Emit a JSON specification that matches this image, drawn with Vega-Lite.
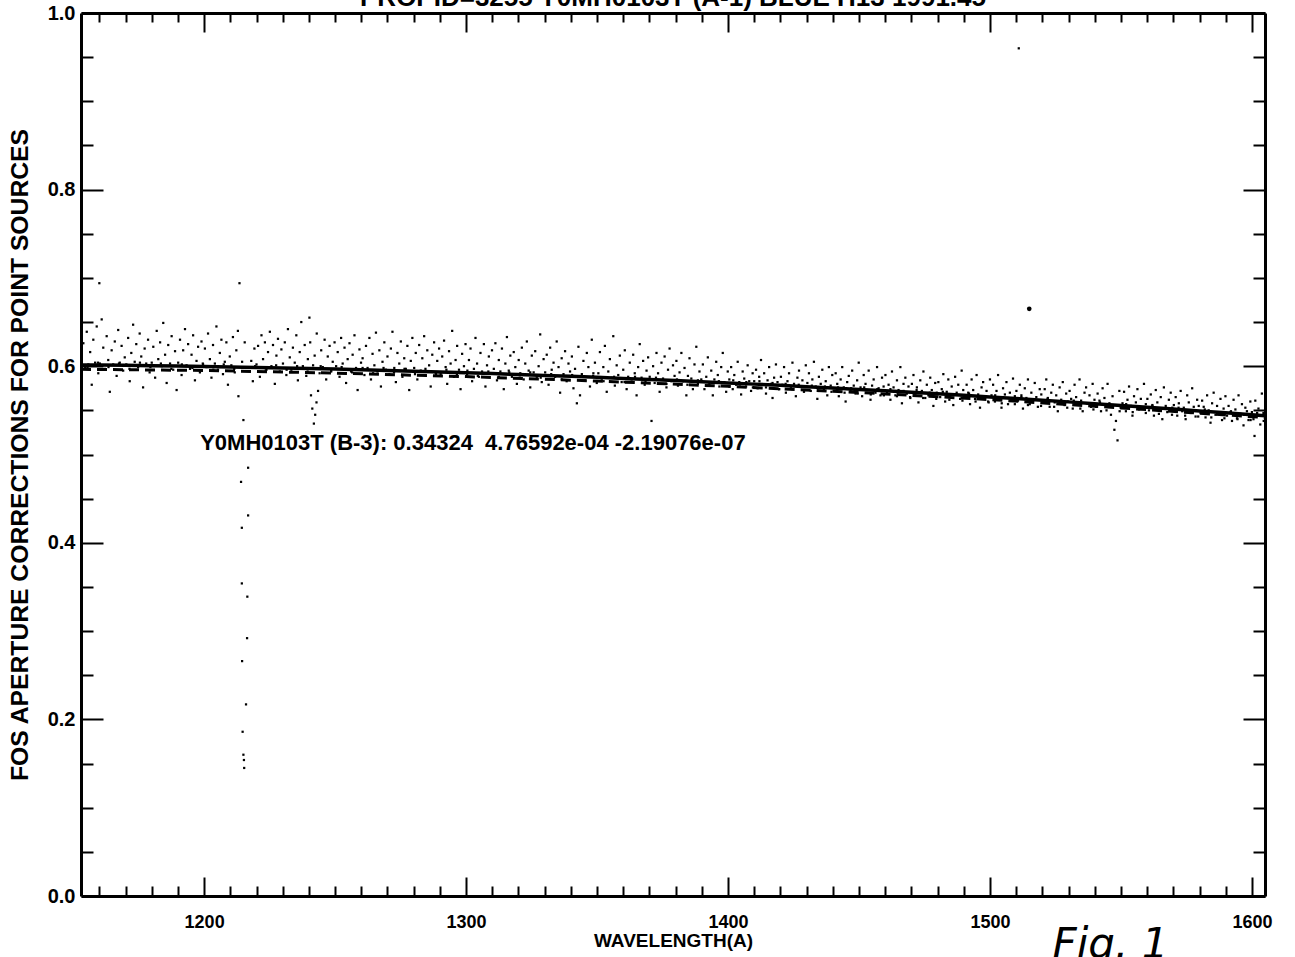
{
"$schema": "https://vega.github.io/schema/vega-lite/v6.json",
"width": 1184, "height": 883,
"autosize": {"type": "none"},
"padding": {"left": 81, "top": 13, "right": 30, "bottom": 61},
"background": "white",
"title": {"text": "PROPID=3255 Y0MH0103T (A-1) BLUE H13 1991.45", "fontSize": 26, "font": "Liberation Sans", "fontWeight": "bold", "offset": -8, "anchor": "middle", "color": "black"},
"config": {"view": {"stroke": null}, "title": {"color": "black"}, "axis": {"grid": false, "domainColor": "black", "domainWidth": 3, "tickColor": "black", "tickWidth": 2, "labelColor": "black", "titleColor": "black", "labelFont": "Liberation Sans", "titleFont": "Liberation Sans", "labelFontWeight": "bold", "titleFontWeight": "bold", "labelFlush": false, "labelOverlap": false}},
"datasets": {
"pts": [
{"w":1153.3,"v":0.605},{"w":1153.9,"v":0.626},{"w":1154.6,"v":0.598},{"w":1155.2,"v":0.639},{"w":1155.8,"v":0.602},{"w":1156.5,"v":0.616},{"w":1157.1,"v":0.579},{"w":1157.7,"v":0.630},{"w":1158.4,"v":0.604},{"w":1159.0,"v":0.645},{"w":1159.6,"v":0.592},
{"w":1160.2,"v":0.603},{"w":1160.9,"v":0.653},{"w":1161.5,"v":0.621},{"w":1162.1,"v":0.597},{"w":1162.8,"v":0.634},{"w":1163.4,"v":0.607},{"w":1164.0,"v":0.571},{"w":1164.7,"v":0.618},{"w":1165.3,"v":0.602},{"w":1165.9,"v":0.628},{"w":1166.6,"v":0.589},{"w":1167.2,"v":0.641},{"w":1167.8,"v":0.604},{"w":1168.5,"v":0.623},{"w":1169.1,"v":0.595},{"w":1169.7,"v":0.610},
{"w":1170.3,"v":0.602},{"w":1171.0,"v":0.632},{"w":1171.6,"v":0.583},{"w":1172.2,"v":0.615},{"w":1172.9,"v":0.647},{"w":1173.5,"v":0.605},{"w":1174.1,"v":0.625},{"w":1174.8,"v":0.599},{"w":1175.4,"v":0.637},{"w":1176.0,"v":0.611},{"w":1176.7,"v":0.576},{"w":1177.3,"v":0.620},{"w":1177.9,"v":0.603},{"w":1178.6,"v":0.630},{"w":1179.2,"v":0.593},
{"w":1180.0,"v":0.604},{"w":1180.6,"v":0.622},{"w":1181.3,"v":0.587},{"w":1181.9,"v":0.640},{"w":1182.5,"v":0.608},{"w":1183.2,"v":0.627},{"w":1183.8,"v":0.600},{"w":1184.4,"v":0.649},{"w":1185.1,"v":0.613},{"w":1185.7,"v":0.581},{"w":1186.3,"v":0.624},{"w":1187.0,"v":0.603},{"w":1187.6,"v":0.634},{"w":1188.2,"v":0.596},{"w":1188.9,"v":0.617},{"w":1189.5,"v":0.573},
{"w":1190.1,"v":0.604},{"w":1190.8,"v":0.630},{"w":1191.4,"v":0.590},{"w":1192.0,"v":0.618},{"w":1192.7,"v":0.642},{"w":1193.3,"v":0.601},{"w":1193.9,"v":0.625},{"w":1194.6,"v":0.597},{"w":1195.2,"v":0.613},{"w":1195.8,"v":0.635},{"w":1196.5,"v":0.584},{"w":1197.1,"v":0.606},{"w":1197.7,"v":0.622},{"w":1198.4,"v":0.593},{"w":1199.0,"v":0.628},{"w":1199.6,"v":0.602},
{"w":1200.3,"v":0.620},{"w":1200.9,"v":0.599},{"w":1201.5,"v":0.637},{"w":1202.2,"v":0.608},{"w":1202.8,"v":0.587},{"w":1203.4,"v":0.624},{"w":1204.1,"v":0.603},{"w":1204.7,"v":0.645},{"w":1205.3,"v":0.596},{"w":1206.0,"v":0.615},{"w":1206.6,"v":0.630},{"w":1207.2,"v":0.591},{"w":1207.9,"v":0.605},{"w":1208.5,"v":0.627},{"w":1209.1,"v":0.579},{"w":1209.8,"v":0.611},
{"w":1210.4,"v":0.601},{"w":1211.0,"v":0.633},{"w":1211.7,"v":0.593},{"w":1212.3,"v":0.618},{"w":1212.9,"v":0.640},{"w":1213.5,"v":0.694},{"w":1213.1,"v":0.566},{"w":1214.5,"v":0.605},{"w":1215.0,"v":0.539},{"w":1215.5,"v":0.627},{"w":1218.0,"v":0.606},{"w":1218.6,"v":0.583},{"w":1219.2,"v":0.620},
{"w":1216.8,"v":0.485},{"w":1214.1,"v":0.469},{"w":1216.8,"v":0.431},{"w":1214.4,"v":0.417},{"w":1214.4,"v":0.354},{"w":1216.5,"v":0.339},{"w":1216.4,"v":0.292},{"w":1214.5,"v":0.266},{"w":1216.0,"v":0.217},{"w":1214.7,"v":0.186},{"w":1215.0,"v":0.160},{"w":1215.2,"v":0.154},{"w":1215.3,"v":0.145},
{"w":1220.0,"v":0.602},{"w":1220.6,"v":0.623},{"w":1221.3,"v":0.588},{"w":1221.9,"v":0.635},{"w":1222.5,"v":0.608},{"w":1223.2,"v":0.627},{"w":1223.8,"v":0.596},{"w":1224.4,"v":0.616},{"w":1225.1,"v":0.639},{"w":1225.7,"v":0.600},{"w":1226.3,"v":0.624},{"w":1227.0,"v":0.580},{"w":1227.6,"v":0.612},{"w":1228.2,"v":0.631},{"w":1228.9,"v":0.594},{"w":1229.5,"v":0.619},
{"w":1230.1,"v":0.603},{"w":1230.8,"v":0.627},{"w":1231.4,"v":0.590},{"w":1232.0,"v":0.642},{"w":1232.7,"v":0.610},{"w":1233.3,"v":0.596},{"w":1233.9,"v":0.621},{"w":1234.6,"v":0.604},{"w":1235.2,"v":0.635},{"w":1235.8,"v":0.584},{"w":1236.5,"v":0.616},{"w":1237.1,"v":0.650},{"w":1237.7,"v":0.600},{"w":1238.4,"v":0.624},{"w":1239.0,"v":0.589},{"w":1239.6,"v":0.608},
{"w":1240.2,"v":0.655},{"w":1240.8,"v":0.567},{"w":1241.3,"v":0.552},{"w":1241.9,"v":0.535},{"w":1242.4,"v":0.545},{"w":1242.9,"v":0.559},{"w":1243.5,"v":0.572},{"w":1240.5,"v":0.627},{"w":1241.6,"v":0.601},{"w":1242.2,"v":0.612},{"w":1243.0,"v":0.637},{"w":1244.1,"v":0.592},{"w":1244.7,"v":0.618},{"w":1245.3,"v":0.599},{"w":1246.0,"v":0.630},{"w":1246.6,"v":0.585},{"w":1247.2,"v":0.611},{"w":1247.9,"v":0.623},{"w":1248.5,"v":0.595},{"w":1249.1,"v":0.605},{"w":1249.8,"v":0.627},
{"w":1250.4,"v":0.600},{"w":1251.0,"v":0.616},{"w":1251.7,"v":0.588},{"w":1252.3,"v":0.632},{"w":1252.9,"v":0.603},{"w":1253.6,"v":0.621},{"w":1254.2,"v":0.581},{"w":1254.8,"v":0.608},{"w":1255.5,"v":0.626},{"w":1256.1,"v":0.594},{"w":1256.7,"v":0.613},{"w":1257.4,"v":0.635},{"w":1258.0,"v":0.598},{"w":1258.6,"v":0.573},{"w":1259.3,"v":0.619},{"w":1259.9,"v":0.604},
{"w":1260.5,"v":0.609},{"w":1261.2,"v":0.590},{"w":1261.8,"v":0.623},{"w":1262.4,"v":0.598},{"w":1263.1,"v":0.632},{"w":1263.7,"v":0.585},{"w":1264.3,"v":0.614},{"w":1265.0,"v":0.601},{"w":1265.6,"v":0.638},{"w":1266.2,"v":0.594},{"w":1266.9,"v":0.618},{"w":1267.5,"v":0.577},{"w":1268.1,"v":0.605},{"w":1268.8,"v":0.627},{"w":1269.4,"v":0.596},
{"w":1270.0,"v":0.611},{"w":1270.7,"v":0.591},{"w":1271.3,"v":0.620},{"w":1271.9,"v":0.639},{"w":1272.6,"v":0.598},{"w":1273.2,"v":0.582},{"w":1273.8,"v":0.615},{"w":1274.5,"v":0.603},{"w":1275.1,"v":0.628},{"w":1275.7,"v":0.588},{"w":1276.4,"v":0.609},{"w":1277.0,"v":0.597},{"w":1277.6,"v":0.623},{"w":1278.3,"v":0.573},{"w":1278.9,"v":0.606},{"w":1279.5,"v":0.632},
{"w":1280.2,"v":0.598},{"w":1280.8,"v":0.615},{"w":1281.4,"v":0.585},{"w":1282.1,"v":0.624},{"w":1282.7,"v":0.595},{"w":1283.3,"v":0.609},{"w":1284.0,"v":0.634},{"w":1284.6,"v":0.589},{"w":1285.2,"v":0.618},{"w":1285.9,"v":0.601},{"w":1286.5,"v":0.577},{"w":1287.1,"v":0.613},{"w":1287.8,"v":0.627},{"w":1288.4,"v":0.593},{"w":1289.0,"v":0.606},{"w":1289.7,"v":0.620},
{"w":1290.3,"v":0.591},{"w":1290.9,"v":0.611},{"w":1291.6,"v":0.629},{"w":1292.2,"v":0.599},{"w":1292.8,"v":0.580},{"w":1293.5,"v":0.617},{"w":1294.1,"v":0.603},{"w":1294.7,"v":0.640},{"w":1295.4,"v":0.588},{"w":1296.0,"v":0.607},{"w":1296.6,"v":0.623},{"w":1297.3,"v":0.596},{"w":1297.9,"v":0.574},{"w":1298.5,"v":0.614},{"w":1299.2,"v":0.600},{"w":1299.8,"v":0.625},
{"w":1300.4,"v":0.591},{"w":1301.1,"v":0.607},{"w":1301.7,"v":0.620},{"w":1302.3,"v":0.583},{"w":1303.0,"v":0.597},{"w":1303.6,"v":0.632},{"w":1304.2,"v":0.603},{"w":1304.9,"v":0.588},{"w":1305.5,"v":0.615},{"w":1306.1,"v":0.594},{"w":1306.8,"v":0.625},{"w":1307.4,"v":0.577},{"w":1308.0,"v":0.601},{"w":1308.7,"v":0.611},{"w":1309.3,"v":0.592},{"w":1309.9,"v":0.618},
{"w":1310.6,"v":0.597},{"w":1311.2,"v":0.626},{"w":1311.8,"v":0.584},{"w":1312.5,"v":0.607},{"w":1313.1,"v":0.594},{"w":1313.7,"v":0.620},{"w":1314.4,"v":0.574},{"w":1315.0,"v":0.603},{"w":1315.6,"v":0.633},{"w":1316.3,"v":0.595},{"w":1316.9,"v":0.612},{"w":1317.5,"v":0.588},{"w":1318.2,"v":0.616},{"w":1318.8,"v":0.599},{"w":1319.4,"v":0.580},
{"w":1320.1,"v":0.607},{"w":1320.7,"v":0.592},{"w":1321.3,"v":0.621},{"w":1322.0,"v":0.585},{"w":1322.6,"v":0.603},{"w":1323.2,"v":0.628},{"w":1323.9,"v":0.595},{"w":1324.5,"v":0.576},{"w":1325.1,"v":0.612},{"w":1325.8,"v":0.593},{"w":1326.4,"v":0.617},{"w":1327.0,"v":0.588},{"w":1327.7,"v":0.600},{"w":1328.3,"v":0.636},{"w":1328.9,"v":0.582},{"w":1329.6,"v":0.608},
{"w":1330.2,"v":0.593},{"w":1330.8,"v":0.613},{"w":1331.5,"v":0.579},{"w":1332.1,"v":0.621},{"w":1332.7,"v":0.596},{"w":1333.4,"v":0.604},{"w":1334.0,"v":0.588},{"w":1334.6,"v":0.628},{"w":1335.3,"v":0.599},{"w":1335.9,"v":0.570},{"w":1336.5,"v":0.609},{"w":1337.2,"v":0.591},{"w":1337.8,"v":0.617},{"w":1338.4,"v":0.583},{"w":1339.1,"v":0.603},{"w":1339.7,"v":0.594},
{"w":1340.4,"v":0.611},{"w":1341.0,"v":0.575},{"w":1341.6,"v":0.597},{"w":1342.3,"v":0.558},{"w":1342.9,"v":0.622},{"w":1343.5,"v":0.567},{"w":1344.2,"v":0.591},{"w":1344.8,"v":0.606},{"w":1345.4,"v":0.584},{"w":1346.1,"v":0.615},{"w":1346.7,"v":0.599},{"w":1347.3,"v":0.577},{"w":1348.0,"v":0.630},{"w":1348.6,"v":0.592},{"w":1349.2,"v":0.604},{"w":1349.9,"v":0.581},
{"w":1350.5,"v":0.592},{"w":1351.1,"v":0.616},{"w":1351.8,"v":0.584},{"w":1352.4,"v":0.599},{"w":1353.0,"v":0.623},{"w":1353.7,"v":0.571},{"w":1354.3,"v":0.594},{"w":1354.9,"v":0.608},{"w":1355.6,"v":0.587},{"w":1356.2,"v":0.634},{"w":1356.8,"v":0.578},{"w":1357.5,"v":0.601},{"w":1358.1,"v":0.590},{"w":1358.7,"v":0.612},{"w":1359.4,"v":0.582},
{"w":1360.0,"v":0.596},{"w":1360.6,"v":0.618},{"w":1361.3,"v":0.574},{"w":1361.9,"v":0.588},{"w":1362.5,"v":0.604},{"w":1363.2,"v":0.585},{"w":1363.8,"v":0.613},{"w":1364.4,"v":0.592},{"w":1365.1,"v":0.567},{"w":1365.7,"v":0.599},{"w":1366.3,"v":0.625},{"w":1367.0,"v":0.587},{"w":1367.6,"v":0.606},{"w":1368.2,"v":0.579},{"w":1368.9,"v":0.595},{"w":1369.5,"v":0.610},
{"w":1370.1,"v":0.588},{"w":1370.8,"v":0.538},{"w":1371.4,"v":0.600},{"w":1372.0,"v":0.581},{"w":1372.7,"v":0.615},{"w":1373.3,"v":0.592},{"w":1373.9,"v":0.571},{"w":1374.6,"v":0.604},{"w":1375.2,"v":0.586},{"w":1375.8,"v":0.611},{"w":1376.5,"v":0.576},{"w":1377.1,"v":0.596},{"w":1377.7,"v":0.620},{"w":1378.4,"v":0.583},{"w":1379.0,"v":0.601},{"w":1379.6,"v":0.589},
{"w":1380.3,"v":0.606},{"w":1380.9,"v":0.578},{"w":1381.5,"v":0.593},{"w":1382.2,"v":0.615},{"w":1382.8,"v":0.583},{"w":1383.4,"v":0.598},{"w":1384.1,"v":0.567},{"w":1384.7,"v":0.589},{"w":1385.3,"v":0.609},{"w":1386.0,"v":0.586},{"w":1386.6,"v":0.574},{"w":1387.2,"v":0.602},{"w":1387.9,"v":0.622},{"w":1388.5,"v":0.580},{"w":1389.1,"v":0.594},{"w":1389.8,"v":0.585},
{"w":1390.4,"v":0.602},{"w":1391.0,"v":0.574},{"w":1391.7,"v":0.588},{"w":1392.3,"v":0.610},{"w":1392.9,"v":0.580},{"w":1393.6,"v":0.595},{"w":1394.2,"v":0.567},{"w":1394.8,"v":0.585},{"w":1395.5,"v":0.605},{"w":1396.1,"v":0.590},{"w":1396.7,"v":0.577},{"w":1397.4,"v":0.599},{"w":1398.0,"v":0.615},{"w":1398.6,"v":0.582},{"w":1399.3,"v":0.571},{"w":1399.9,"v":0.594},
{"w":1400.5,"v":0.585},{"w":1401.2,"v":0.599},{"w":1401.8,"v":0.574},{"w":1402.4,"v":0.590},{"w":1403.1,"v":0.579},{"w":1403.7,"v":0.605},{"w":1404.3,"v":0.582},{"w":1405.0,"v":0.568},{"w":1405.6,"v":0.594},{"w":1406.2,"v":0.586},{"w":1406.9,"v":0.577},{"w":1407.5,"v":0.601},{"w":1408.1,"v":0.583},{"w":1408.8,"v":0.572},{"w":1409.4,"v":0.592},
{"w":1410.0,"v":0.583},{"w":1410.7,"v":0.596},{"w":1411.3,"v":0.575},{"w":1411.9,"v":0.588},{"w":1412.6,"v":0.607},{"w":1413.2,"v":0.579},{"w":1413.8,"v":0.592},{"w":1414.5,"v":0.569},{"w":1415.1,"v":0.584},{"w":1415.7,"v":0.599},{"w":1416.4,"v":0.580},{"w":1417.0,"v":0.564},{"w":1417.6,"v":0.587},{"w":1418.3,"v":0.602},{"w":1418.9,"v":0.582},{"w":1419.5,"v":0.574},
{"w":1420.2,"v":0.588},{"w":1420.8,"v":0.579},{"w":1421.4,"v":0.599},{"w":1422.1,"v":0.570},{"w":1422.7,"v":0.583},{"w":1423.3,"v":0.592},{"w":1424.0,"v":0.575},{"w":1424.6,"v":0.604},{"w":1425.2,"v":0.580},{"w":1425.9,"v":0.566},{"w":1426.5,"v":0.587},{"w":1427.1,"v":0.595},{"w":1427.8,"v":0.577},{"w":1428.4,"v":0.584},{"w":1429.0,"v":0.571},{"w":1429.7,"v":0.601},
{"w":1430.3,"v":0.581},{"w":1430.9,"v":0.592},{"w":1431.6,"v":0.572},{"w":1432.2,"v":0.585},{"w":1432.8,"v":0.605},{"w":1433.5,"v":0.577},{"w":1434.1,"v":0.563},{"w":1434.7,"v":0.588},{"w":1435.4,"v":0.580},{"w":1436.0,"v":0.596},{"w":1436.6,"v":0.573},{"w":1437.3,"v":0.583},{"w":1437.9,"v":0.567},{"w":1438.5,"v":0.599},{"w":1439.2,"v":0.578},{"w":1439.8,"v":0.590},
{"w":1440.4,"v":0.572},{"w":1441.1,"v":0.592},{"w":1441.7,"v":0.580},{"w":1442.3,"v":0.566},{"w":1443.0,"v":0.585},{"w":1443.6,"v":0.599},{"w":1444.2,"v":0.576},{"w":1444.9,"v":0.560},{"w":1445.5,"v":0.582},{"w":1446.1,"v":0.589},{"w":1446.8,"v":0.573},{"w":1447.4,"v":0.595},{"w":1448.0,"v":0.578},{"w":1448.7,"v":0.569},{"w":1449.3,"v":0.584},{"w":1449.9,"v":0.604},
{"w":1450.6,"v":0.576},{"w":1451.2,"v":0.566},{"w":1451.8,"v":0.590},{"w":1452.5,"v":0.580},{"w":1453.1,"v":0.573},{"w":1453.7,"v":0.595},{"w":1454.4,"v":0.562},{"w":1455.0,"v":0.578},{"w":1455.6,"v":0.585},{"w":1456.3,"v":0.570},{"w":1456.9,"v":0.599},{"w":1457.5,"v":0.575},{"w":1458.2,"v":0.567},{"w":1458.8,"v":0.587},{"w":1459.4,"v":0.577},
{"w":1460.1,"v":0.590},{"w":1460.7,"v":0.570},{"w":1461.3,"v":0.579},{"w":1462.0,"v":0.562},{"w":1462.6,"v":0.594},{"w":1463.2,"v":0.576},{"w":1463.9,"v":0.567},{"w":1464.5,"v":0.584},{"w":1465.1,"v":0.573},{"w":1465.8,"v":0.599},{"w":1466.4,"v":0.558},{"w":1467.0,"v":0.580},{"w":1467.7,"v":0.587},{"w":1468.3,"v":0.569},{"w":1468.9,"v":0.577},{"w":1469.6,"v":0.564},
{"w":1470.2,"v":0.580},{"w":1470.8,"v":0.590},{"w":1471.5,"v":0.569},{"w":1472.1,"v":0.576},{"w":1472.7,"v":0.559},{"w":1473.4,"v":0.584},{"w":1474.0,"v":0.572},{"w":1474.6,"v":0.594},{"w":1475.3,"v":0.564},{"w":1475.9,"v":0.579},{"w":1476.5,"v":0.567},{"w":1477.2,"v":0.587},{"w":1477.8,"v":0.573},{"w":1478.4,"v":0.555},{"w":1479.1,"v":0.581},{"w":1479.7,"v":0.570},
{"w":1480.3,"v":0.582},{"w":1481.0,"v":0.565},{"w":1481.6,"v":0.574},{"w":1482.2,"v":0.591},{"w":1482.9,"v":0.560},{"w":1483.5,"v":0.571},{"w":1484.1,"v":0.585},{"w":1484.8,"v":0.567},{"w":1485.4,"v":0.577},{"w":1486.0,"v":0.556},{"w":1486.7,"v":0.588},{"w":1487.3,"v":0.570},{"w":1487.9,"v":0.579},{"w":1488.6,"v":0.563},{"w":1489.2,"v":0.595},{"w":1489.8,"v":0.573},
{"w":1490.5,"v":0.566},{"w":1491.1,"v":0.579},{"w":1491.7,"v":0.570},{"w":1492.4,"v":0.557},{"w":1493.0,"v":0.585},{"w":1493.6,"v":0.573},{"w":1494.3,"v":0.563},{"w":1494.9,"v":0.590},{"w":1495.5,"v":0.568},{"w":1496.2,"v":0.553},{"w":1496.8,"v":0.576},{"w":1497.4,"v":0.582},{"w":1498.1,"v":0.565},{"w":1498.7,"v":0.572},{"w":1499.3,"v":0.560},{"w":1500.0,"v":0.585},
{"w":1500.6,"v":0.567},{"w":1501.2,"v":0.579},{"w":1501.9,"v":0.560},{"w":1502.5,"v":0.572},{"w":1503.1,"v":0.590},{"w":1503.8,"v":0.564},{"w":1504.4,"v":0.553},{"w":1505.0,"v":0.575},{"w":1505.7,"v":0.568},{"w":1506.3,"v":0.582},{"w":1506.9,"v":0.557},{"w":1507.6,"v":0.570},{"w":1508.2,"v":0.562},{"w":1508.8,"v":0.586},{"w":1509.5,"v":0.566},
{"w":1510.1,"v":0.572},{"w":1510.7,"v":0.561},{"w":1511.4,"v":0.579},{"w":1512.0,"v":0.567},{"w":1512.6,"v":0.552},{"w":1513.3,"v":0.575},{"w":1513.9,"v":0.564},{"w":1514.5,"v":0.585},{"w":1515.2,"v":0.557},{"w":1515.8,"v":0.570},{"w":1516.4,"v":0.560},{"w":1517.1,"v":0.581},{"w":1517.7,"v":0.565},{"w":1518.3,"v":0.554},{"w":1519.0,"v":0.574},{"w":1519.6,"v":0.568},
{"w":1520.2,"v":0.560},{"w":1520.9,"v":0.574},{"w":1521.5,"v":0.585},{"w":1522.1,"v":0.564},{"w":1522.8,"v":0.554},{"w":1523.4,"v":0.570},{"w":1524.0,"v":0.579},{"w":1524.7,"v":0.559},{"w":1525.3,"v":0.567},{"w":1525.9,"v":0.549},{"w":1526.6,"v":0.576},{"w":1527.2,"v":0.562},{"w":1527.8,"v":0.582},{"w":1528.5,"v":0.556},{"w":1529.1,"v":0.569},{"w":1529.7,"v":0.560},
{"w":1530.4,"v":0.572},{"w":1531.0,"v":0.563},{"w":1531.6,"v":0.552},{"w":1532.3,"v":0.579},{"w":1532.9,"v":0.565},{"w":1533.5,"v":0.557},{"w":1534.2,"v":0.585},{"w":1534.8,"v":0.561},{"w":1535.4,"v":0.549},{"w":1536.1,"v":0.570},{"w":1536.7,"v":0.576},{"w":1537.3,"v":0.558},{"w":1538.0,"v":0.567},{"w":1538.6,"v":0.554},{"w":1539.2,"v":0.580},{"w":1539.9,"v":0.562},
{"w":1540.5,"v":0.554},{"w":1541.1,"v":0.569},{"w":1541.8,"v":0.561},{"w":1542.4,"v":0.549},{"w":1543.0,"v":0.575},{"w":1543.7,"v":0.564},{"w":1544.3,"v":0.556},{"w":1544.9,"v":0.580},{"w":1545.6,"v":0.558},{"w":1546.2,"v":0.545},{"w":1546.8,"v":0.566},{"w":1547.5,"v":0.528},{"w":1548.1,"v":0.538},{"w":1548.7,"v":0.516},{"w":1549.4,"v":0.572},{"w":1549.9,"v":0.553},
{"w":1550.6,"v":0.558},{"w":1551.2,"v":0.571},{"w":1551.9,"v":0.549},{"w":1552.5,"v":0.562},{"w":1553.1,"v":0.577},{"w":1553.8,"v":0.555},{"w":1554.4,"v":0.544},{"w":1555.0,"v":0.566},{"w":1555.7,"v":0.559},{"w":1556.3,"v":0.574},{"w":1556.9,"v":0.551},{"w":1557.6,"v":0.563},{"w":1558.2,"v":0.553},{"w":1558.8,"v":0.580},{"w":1559.5,"v":0.557},
{"w":1560.1,"v":0.563},{"w":1560.7,"v":0.550},{"w":1561.4,"v":0.568},{"w":1562.0,"v":0.556},{"w":1562.6,"v":0.544},{"w":1563.3,"v":0.573},{"w":1563.9,"v":0.559},{"w":1564.5,"v":0.552},{"w":1565.2,"v":0.565},{"w":1565.8,"v":0.540},{"w":1566.4,"v":0.576},{"w":1567.1,"v":0.555},{"w":1567.7,"v":0.548},{"w":1568.3,"v":0.562},{"w":1569.0,"v":0.570},{"w":1569.6,"v":0.553},
{"w":1570.2,"v":0.556},{"w":1570.9,"v":0.565},{"w":1571.5,"v":0.544},{"w":1572.1,"v":0.558},{"w":1572.8,"v":0.572},{"w":1573.4,"v":0.549},{"w":1574.0,"v":0.553},{"w":1574.7,"v":0.540},{"w":1575.3,"v":0.567},{"w":1575.9,"v":0.559},{"w":1576.6,"v":0.547},{"w":1577.2,"v":0.575},{"w":1577.8,"v":0.554},{"w":1578.5,"v":0.543},{"w":1579.1,"v":0.562},{"w":1579.7,"v":0.555},
{"w":1580.4,"v":0.547},{"w":1581.0,"v":0.561},{"w":1581.6,"v":0.554},{"w":1582.3,"v":0.542},{"w":1582.9,"v":0.567},{"w":1583.5,"v":0.550},{"w":1584.2,"v":0.536},{"w":1584.8,"v":0.558},{"w":1585.4,"v":0.570},{"w":1586.1,"v":0.545},{"w":1586.7,"v":0.555},{"w":1587.3,"v":0.548},{"w":1588.0,"v":0.563},{"w":1588.6,"v":0.539},{"w":1589.2,"v":0.552},{"w":1589.9,"v":0.566},
{"w":1590.5,"v":0.544},{"w":1591.1,"v":0.555},{"w":1591.8,"v":0.548},{"w":1592.4,"v":0.538},{"w":1593.0,"v":0.562},{"w":1593.7,"v":0.551},{"w":1594.3,"v":0.541},{"w":1594.9,"v":0.567},{"w":1595.6,"v":0.546},{"w":1596.2,"v":0.557},{"w":1596.8,"v":0.533},{"w":1597.5,"v":0.553},{"w":1598.1,"v":0.549},{"w":1598.7,"v":0.539},{"w":1599.4,"v":0.560},
{"w":1600.0,"v":0.548},{"w":1600.6,"v":0.540},{"w":1601.3,"v":0.561},{"w":1601.9,"v":0.544},{"w":1602.5,"v":0.552},{"w":1603.2,"v":0.534},{"w":1603.8,"v":0.569},{"w":1604.4,"v":0.547},{"w":1601.0,"v":0.521},
{"w":1160.0,"v":0.694},{"w":1511.0,"v":0.960},
{"w":1155.5,"v":0.598},{"w":1159.5,"v":0.604},{"w":1163.5,"v":0.599},{"w":1167.5,"v":0.603},{"w":1171.5,"v":0.597},{"w":1175.5,"v":0.604},{"w":1179.5,"v":0.599},{"w":1183.5,"v":0.603},{"w":1187.5,"v":0.597},{"w":1191.5,"v":0.602},{"w":1195.5,"v":0.598},{"w":1199.5,"v":0.603},
{"w":1203.5,"v":0.596},{"w":1207.5,"v":0.602},{"w":1211.5,"v":0.597},{"w":1219.5,"v":0.600},{"w":1223.5,"v":0.595},{"w":1227.5,"v":0.601},{"w":1231.5,"v":0.596},{"w":1235.5,"v":0.600},{"w":1239.5,"v":0.594},
{"w":1244.5,"v":0.600},{"w":1248.5,"v":0.594},{"w":1252.5,"v":0.599},{"w":1256.5,"v":0.593},{"w":1260.5,"v":0.598},{"w":1264.5,"v":0.592},{"w":1268.5,"v":0.598},{"w":1272.5,"v":0.593},{"w":1276.5,"v":0.597},{"w":1280.5,"v":0.591},
{"w":1284.5,"v":0.597},{"w":1288.5,"v":0.591},{"w":1292.5,"v":0.596},{"w":1296.5,"v":0.590},{"w":1300.5,"v":0.595},{"w":1304.5,"v":0.589},{"w":1308.5,"v":0.594},{"w":1312.5,"v":0.588},{"w":1316.5,"v":0.593},{"w":1320.5,"v":0.587},
{"w":1324.5,"v":0.593},{"w":1328.5,"v":0.587},{"w":1332.5,"v":0.591},{"w":1336.5,"v":0.585},{"w":1340.5,"v":0.590},{"w":1344.5,"v":0.584},{"w":1348.5,"v":0.589},{"w":1352.5,"v":0.583},{"w":1356.5,"v":0.588},{"w":1360.5,"v":0.582},
{"w":1364.5,"v":0.588},{"w":1368.5,"v":0.582},{"w":1372.5,"v":0.587},{"w":1376.5,"v":0.580},{"w":1380.5,"v":0.585},{"w":1384.5,"v":0.579},{"w":1388.5,"v":0.584},{"w":1392.5,"v":0.578},{"w":1396.5,"v":0.583},{"w":1400.5,"v":0.577},
{"w":1402.0,"v":0.584},{"w":1404.5,"v":0.577},{"w":1407.0,"v":0.582},{"w":1409.5,"v":0.576},{"w":1412.0,"v":0.583},{"w":1414.5,"v":0.576},{"w":1417.0,"v":0.581},{"w":1419.5,"v":0.574},{"w":1422.0,"v":0.580},{"w":1424.5,"v":0.574},{"w":1427.0,"v":0.579},{"w":1429.5,"v":0.573},{"w":1432.0,"v":0.578},{"w":1434.5,"v":0.572},{"w":1437.0,"v":0.577},{"w":1439.5,"v":0.571},
{"w":1442.0,"v":0.576},{"w":1444.5,"v":0.570},{"w":1447.0,"v":0.575},{"w":1449.5,"v":0.569},{"w":1452.0,"v":0.576},{"w":1454.5,"v":0.568},{"w":1457.0,"v":0.574},{"w":1459.5,"v":0.567},{"w":1462.0,"v":0.574},{"w":1464.5,"v":0.566},{"w":1467.0,"v":0.572},{"w":1469.5,"v":0.565},{"w":1472.0,"v":0.573},{"w":1474.5,"v":0.564},{"w":1477.0,"v":0.570},{"w":1479.5,"v":0.563},
{"w":1482.0,"v":0.571},{"w":1484.5,"v":0.562},{"w":1487.0,"v":0.568},{"w":1489.5,"v":0.561},{"w":1492.0,"v":0.569},{"w":1494.5,"v":0.560},{"w":1497.0,"v":0.566},{"w":1499.5,"v":0.559},{"w":1502.0,"v":0.567},{"w":1504.5,"v":0.558},{"w":1507.0,"v":0.564},{"w":1509.5,"v":0.557},{"w":1512.0,"v":0.565},{"w":1514.5,"v":0.556},{"w":1517.0,"v":0.562},{"w":1519.5,"v":0.555},
{"w":1522.0,"v":0.563},{"w":1524.5,"v":0.554},{"w":1527.0,"v":0.560},{"w":1529.5,"v":0.553},{"w":1532.0,"v":0.561},{"w":1534.5,"v":0.552},{"w":1537.0,"v":0.558},{"w":1539.5,"v":0.551},{"w":1542.0,"v":0.559},{"w":1544.5,"v":0.550},{"w":1547.0,"v":0.556},{"w":1549.5,"v":0.549},{"w":1552.0,"v":0.557},{"w":1554.5,"v":0.548},{"w":1557.0,"v":0.554},{"w":1559.5,"v":0.547},
{"w":1562.0,"v":0.555},{"w":1564.5,"v":0.546},{"w":1567.0,"v":0.552},{"w":1569.5,"v":0.545},{"w":1572.0,"v":0.553},{"w":1574.5,"v":0.544},{"w":1577.0,"v":0.550},{"w":1579.5,"v":0.543},{"w":1582.0,"v":0.551},{"w":1584.5,"v":0.542},{"w":1587.0,"v":0.548},{"w":1589.5,"v":0.541},{"w":1592.0,"v":0.549},{"w":1594.5,"v":0.540},{"w":1597.0,"v":0.545},{"w":1599.5,"v":0.539},{"w":1602.0,"v":0.547},{"w":1604.5,"v":0.538}
],
"fit": [
{"w":1153,"v":0.6015},{"w":1160,"v":0.6013},{"w":1170,"v":0.6010},{"w":1180,"v":0.6006},{"w":1190,"v":0.6002},{"w":1200,"v":0.5997},{"w":1210,"v":0.5992},{"w":1220,"v":0.5986},{"w":1230,"v":0.5980},{"w":1240,"v":0.5974},{"w":1250,"v":0.5967},{"w":1260,"v":0.5959},{"w":1270,"v":0.5952},{"w":1280,"v":0.5943},{"w":1290,"v":0.5935},{"w":1300,"v":0.5926},{"w":1310,"v":0.5916},{"w":1320,"v":0.5906},{"w":1330,"v":0.5896},{"w":1340,"v":0.5885},{"w":1350,"v":0.5874},{"w":1360,"v":0.5862},{"w":1370,"v":0.5850},{"w":1380,"v":0.5837},{"w":1390,"v":0.5824},{"w":1400,"v":0.5811},{"w":1410,"v":0.5797},{"w":1420,"v":0.5783},{"w":1430,"v":0.5768},{"w":1440,"v":0.5753},{"w":1450,"v":0.5737},{"w":1460,"v":0.5721},{"w":1470,"v":0.5704},{"w":1480,"v":0.5687},{"w":1490,"v":0.5670},{"w":1500,"v":0.5652},{"w":1510,"v":0.5634},{"w":1520,"v":0.5615},{"w":1530,"v":0.5596},{"w":1540,"v":0.5576},{"w":1550,"v":0.5556},{"w":1560,"v":0.5536},{"w":1570,"v":0.5515},{"w":1580,"v":0.5494},{"w":1590,"v":0.5472},{"w":1600,"v":0.5450},{"w":1605,"v":0.5438}
],
"fit2": [
{"w":1153,"v":0.5965},{"w":1200,"v":0.5952},{"w":1250,"v":0.5922},{"w":1300,"v":0.5882},{"w":1350,"v":0.5832},{"w":1400,"v":0.5772},{"w":1450,"v":0.5702},{"w":1500,"v":0.5622},{"w":1550,"v":0.5528},{"w":1605,"v":0.5418}
]
},
"resolve": {"axis": {"x": "independent", "y": "independent"}},
"layer": [
{"data": {"name": "pts"},
 "mark": {"type": "point", "shape": "square", "filled": true, "size": 5, "color": "black", "opacity": 1},
 "encoding": {
  "x": {"field": "w", "type": "quantitative", "scale": {"domain": [1153, 1605], "nice": false, "zero": false},
        "axis": {"orient": "bottom", "values": [1200, 1300, 1400, 1500, 1600], "format": "d", "ticks": false, "labelFontSize": 18, "labelPadding": 17, "title": "WAVELENGTH(A)", "titleFontSize": 19, "titlePadding": 0}},
  "y": {"field": "v", "type": "quantitative", "scale": {"domain": [0, 1], "nice": false, "zero": false},
        "axis": {"orient": "left", "values": [0, 0.2, 0.4, 0.6, 0.8, 1], "format": ".1f", "ticks": false, "labelFontSize": 20, "labelPadding": 6, "title": "FOS APERTURE CORRECTIONS FOR POINT SOURCES", "titleFontSize": 24.7, "titlePadding": 15}}}},
{"data": {"name": "fit"},
 "mark": {"type": "line", "color": "black", "strokeWidth": 3.5},
 "encoding": {
  "x": {"field": "w", "type": "quantitative", "scale": {"domain": [1153, 1605], "nice": false, "zero": false},
        "axis": {"orient": "bottom", "values": [1200, 1300, 1400, 1500, 1600], "tickSize": -19, "labels": false, "domain": false, "title": null}},
  "y": {"field": "v", "type": "quantitative", "scale": {"domain": [0, 1], "nice": false, "zero": false},
        "axis": {"orient": "left", "values": [0, 0.2, 0.4, 0.6, 0.8, 1], "tickSize": -22, "labels": false, "domain": false, "title": null}}}},
{"data": {"name": "fit2"},
 "mark": {"type": "line", "color": "black", "strokeWidth": 3, "strokeDash": [10, 6]},
 "encoding": {
  "x": {"field": "w", "type": "quantitative", "scale": {"domain": [1153, 1605], "nice": false, "zero": false},
        "axis": {"orient": "bottom", "values": [1160,1170,1180,1190,1210,1220,1230,1240,1250,1260,1270,1280,1290,1310,1320,1330,1340,1350,1360,1370,1380,1390,1410,1420,1430,1440,1450,1460,1470,1480,1490,1510,1520,1530,1540,1550,1560,1570,1580,1590], "tickSize": -10, "labels": false, "domain": false, "title": null}},
  "y": {"field": "v", "type": "quantitative", "scale": {"domain": [0, 1], "nice": false, "zero": false},
        "axis": {"orient": "left", "values": [0.05,0.1,0.15,0.25,0.3,0.35,0.45,0.5,0.55,0.65,0.7,0.75,0.85,0.9,0.95], "tickSize": -12, "labels": false, "domain": false, "title": null}}}},
{"data": {"values": [{"w": 1198.5, "v": 0.513, "t": "Y0MH0103T (B-3): 0.34324\u00a0 4.76592e-04 -2.19076e-07"}]},
 "mark": {"type": "text", "align": "left", "baseline": "middle", "font": "Liberation Sans", "fontWeight": "bold", "fontSize": 22, "color": "black"},
 "encoding": {
  "text": {"field": "t"},
  "x": {"field": "w", "type": "quantitative", "scale": {"domain": [1153, 1605], "nice": false, "zero": false},
        "axis": {"orient": "top", "values": [1200, 1300, 1400, 1500, 1600], "tickSize": -19, "labels": false, "domain": true, "title": null}},
  "y": {"field": "v", "type": "quantitative", "scale": {"domain": [0, 1], "nice": false, "zero": false},
        "axis": {"orient": "right", "values": [0, 0.2, 0.4, 0.6, 0.8, 1], "tickSize": -22, "labels": false, "domain": true, "title": null}}}},
{"data": {"values": [{"w": 1515, "v": 0.665}]},
 "mark": {"type": "point", "shape": "circle", "filled": true, "size": 22, "color": "black", "opacity": 1},
 "encoding": {
  "x": {"field": "w", "type": "quantitative", "scale": {"domain": [1153, 1605], "nice": false, "zero": false},
        "axis": {"orient": "top", "values": [1160,1170,1180,1190,1210,1220,1230,1240,1250,1260,1270,1280,1290,1310,1320,1330,1340,1350,1360,1370,1380,1390,1410,1420,1430,1440,1450,1460,1470,1480,1490,1510,1520,1530,1540,1550,1560,1570,1580,1590], "tickSize": -9, "labels": false, "domain": false, "title": null}},
  "y": {"field": "v", "type": "quantitative", "scale": {"domain": [0, 1], "nice": false, "zero": false},
        "axis": {"orient": "right", "values": [0.05,0.1,0.15,0.25,0.3,0.35,0.45,0.5,0.55,0.65,0.7,0.75,0.85,0.9,0.95], "tickSize": -12, "labels": false, "domain": false, "title": null}}}},
{"data": {"values": [{"w": 1546, "v": -0.033, "t": "Fig. 1"}]},
 "mark": {"type": "text", "align": "center", "baseline": "top", "font": "DejaVu Sans", "fontStyle": "italic", "fontSize": 42, "color": "black"},
 "encoding": {
  "text": {"field": "t"},
  "x": {"field": "w", "type": "quantitative", "scale": {"domain": [1153, 1605], "nice": false, "zero": false}, "axis": null},
  "y": {"field": "v", "type": "quantitative", "scale": {"domain": [0, 1], "nice": false, "zero": false}, "axis": null}}}
]
}
